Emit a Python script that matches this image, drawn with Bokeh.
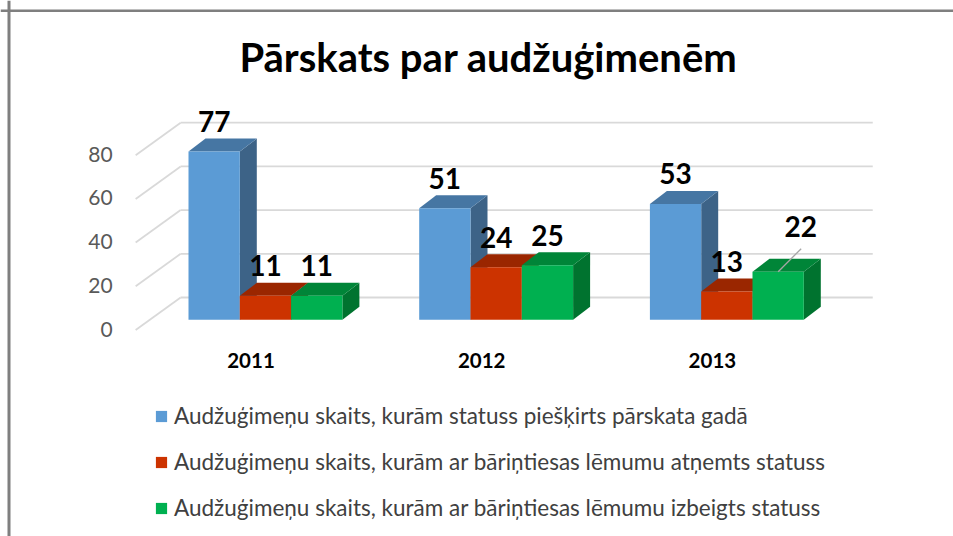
from bokeh.plotting import figure
from bokeh.models import (Range1d, LinearAxis, FixedTicker, Legend, LegendItem, Label, Span)
from bokeh.core.properties import value
from bokeh.embed import file_html
from bokeh.resources import INLINE

years = ["2011", "2012", "2013"]
granted = [77, 51, 53]
revoked = [11, 24, 13]
ended = [11, 25, 22]
y_ticks = [0, 20, 40, 60, 80]
title_text = "Pārskats par audžuģimenēm"
series_names = [
    "Audžuģimeņu skaits, kurām statuss piešķirts pārskata gadā",
    "Audžuģimeņu skaits, kurām ar bāriņtiesas lēmumu atņemts statuss",
    "Audžuģimeņu skaits, kurām ar bāriņtiesas lēmumu izbeigts statuss",
]

W, H = 953, 536
FONT = "Lato"
# screen geometry (page pixels)
PX_PER_CAT = 230.7
CAT0_PX = 250.5
PX_PER_UNIT = 2.185
BASE_PX = 319.3
AXIS_BASE_PX = 328.5


def ux(px):
    return (px - CAT0_PX) / PX_PER_CAT


def uy(py):
    return (BASE_PX - py) / PX_PER_UNIT


p = figure(width=W, height=H, output_backend="svg", toolbar_location=None,
           x_range=Range1d(ux(0), ux(W)), y_range=Range1d(uy(H), uy(0)),
           min_border=0, outline_line_color=None, background_fill_color="white",
           border_fill_color="white")
p.xaxis.visible = False
p.yaxis.visible = False
p.grid.visible = False

# frame of the original picture
p.add_layout(Span(location=ux(8.5), dimension="height", line_color="#7f7f7f", line_width=3))
p.add_layout(Span(location=uy(10.2), dimension="width", line_color="#7f7f7f", line_width=2.5))

# wall grid
GRID = "#d9d9d9"
depth_x = 45 / PX_PER_CAT
wall_rise = 22.3 / PX_PER_UNIT
floor_drop = 10.2 / PX_PER_UNIT
left_front, left_back = -0.5, -0.5 + depth_x
right_back = left_back + 3
p.segment([left_back] * 5, [t + wall_rise for t in y_ticks],
          [right_back] * 5, [t + wall_rise for t in y_ticks], line_color=GRID, line_width=1.8)
p.segment([left_front] * 5, [t - floor_drop for t in y_ticks],
          [left_back] * 5, [t + wall_rise for t in y_ticks], line_color=GRID, line_width=1.8)

# 3-D bars
bar_w = 51.3 / PX_PER_CAT
group_left = (188 - CAT0_PX) / PX_PER_CAT
dx = 17 / PX_PER_CAT
dy = 13 / PX_PER_UNIT
colors = [("#5b9bd5", "#4676a3", "#3d6387"),
          ("#cc3300", "#9a2600", "#7f2000"),
          ("#00b050", "#008538", "#00732f")]
all_series = [granted, revoked, ended]
legend_items = []
for s, (vals, (front, top, side), name) in enumerate(zip(all_series, colors, series_names)):
    lefts = [i + group_left + s * bar_w for i in range(len(vals))]
    rights = [l + bar_w for l in lefts]
    p.patches([[r, r + dx, r + dx, r] for r in rights],
              [[0, dy, v + dy, v] for v in vals],
              fill_color=side, line_color=None)
    p.patches([[l, r, r + dx, l + dx] for l, r in zip(lefts, rights)],
              [[v, v, v + dy, v + dy] for v in vals],
              fill_color=top, line_color=None)
    r = p.quad(left=lefts, right=rights, bottom=[0] * len(vals), top=vals,
               fill_color=front, line_color=None)
    legend_items.append(LegendItem(label=name, renderers=[r]))

# data labels
lab_x, lab_y, lab_t = [], [], []
for s, vals in enumerate(all_series):
    for i, v in enumerate(vals):
        if s == 2 and i == 2:
            continue
        lab_x.append(i + group_left + (s + 0.5) * bar_w)
        lab_y.append(v)
        lab_t.append(str(v))
p.text(lab_x, lab_y, text=lab_t, text_align="center", text_baseline="middle",
       y_offset=-30, text_font=value(FONT), text_font_style="bold",
       text_font_size="28px", text_color="black")
mx = 2 + group_left + 2.5 * bar_w
mv = ended[2]
p.text([mx], [mv], text=[str(mv)], text_align="center", text_baseline="middle",
       x_offset=22.5, y_offset=-45, text_font=value(FONT), text_font_style="bold",
       text_font_size="28px", text_color="black")
p.segment([mx], [mv], [mx + 23 / PX_PER_CAT], [mv + 23 / PX_PER_UNIT],
          line_color="#a6a6a6", line_width=1.3)

# axes
p.extra_y_ranges["axis"] = Range1d((AXIS_BASE_PX - H) / PX_PER_UNIT, AXIS_BASE_PX / PX_PER_UNIT)
ya = LinearAxis(y_range_name="axis", fixed_location=-0.5, ticker=FixedTicker(ticks=y_ticks),
                axis_line_color=None, major_tick_line_color=None, minor_tick_line_color=None,
                major_label_standoff=17, major_label_text_font=FONT,
                major_label_text_font_size="21px", major_label_text_color="#595959")
p.add_layout(ya, "left")
xa = LinearAxis(fixed_location=uy(328.5), ticker=FixedTicker(ticks=[0, 1, 2]),
                major_label_overrides={i: y for i, y in enumerate(years)},
                axis_line_color=None, major_tick_line_color=None, minor_tick_line_color=None,
                major_label_standoff=18, major_label_text_font=FONT, major_label_text_font_style="bold",
                major_label_text_font_size="20.5px", major_label_text_color="black")
p.add_layout(xa, "below")

# title
p.add_layout(Label(x=ux(488), y=uy(56.5), text=title_text, text_align="center", text_baseline="middle",
                   text_font=FONT, text_font_style="bold", text_font_size="40px", text_color="black"))

# legend
leg = Legend(items=legend_items, location=(154, 15), padding=0, margin=0, spacing=19,
             glyph_width=14, glyph_height=14, label_standoff=6,
             label_text_font=FONT, label_text_font_size="22.5px", label_text_color="#404040",
             border_line_color=None, background_fill_alpha=0)
p.add_layout(leg, "center")

open("out.html", "w").write(file_html(p, INLINE))
